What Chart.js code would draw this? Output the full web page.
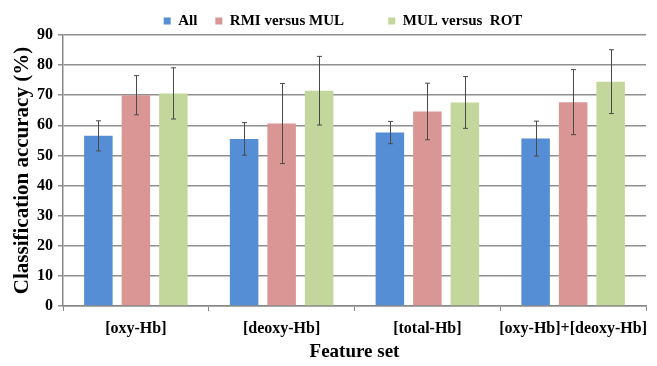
<!DOCTYPE html>
<html><head><meta charset="utf-8">
<script src="https://cdn.jsdelivr.net/npm/chart.js@4.4.0/dist/chart.umd.min.js"></script>
<style>html,body{margin:0;padding:0;background:#fff}#wrap{width:657px;height:366px}</style>
</head><body><div id="wrap"><canvas id="c" width="657" height="366"></canvas></div>
<script>
const categories = ['[oxy-Hb]', '[deoxy-Hb]', '[total-Hb]', '[oxy-Hb]+[deoxy-Hb]'];
const seriesNames = ['All', 'RMI versus MUL       ', 'MUL versus  ROT'];
const allVals = [56.5, 55.5, 57.6, 55.6];
const allErr  = [5.0, 5.4, 3.7, 5.8];
const rmiVals = [70.0, 60.6, 64.6, 67.7];
const rmiErr  = [6.5, 13.3, 9.4, 10.8];
const mulVals = [70.6, 71.5, 67.6, 74.5];
const mulErr  = [8.5, 11.4, 8.6, 10.6];
const yTicks = [0, 10, 20, 30, 40, 50, 60, 70, 80, 90];

const SERIF = '"Liberation Serif", "Times New Roman", serif';

const errorBars = {
  id: 'errorBars',
  afterDatasetsDraw(chart) {
    const ctx = chart.ctx, y = chart.scales.y;
    ctx.save();
    ctx.strokeStyle = '#4a4a4a';
    ctx.lineWidth = 1;
    chart.data.datasets.forEach((ds, di) => {
      const meta = chart.getDatasetMeta(di);
      meta.data.forEach((bar, i) => {
        const v = ds.data[i], e = ds.errors[i];
        const x = Math.round(bar.x) + 0.5;
        const yt = y.getPixelForValue(v + e), yb = y.getPixelForValue(v - e);
        ctx.beginPath();
        ctx.moveTo(x, yt); ctx.lineTo(x, yb);
        ctx.moveTo(x - 2.5, yt); ctx.lineTo(x + 2.5, yt);
        ctx.moveTo(x - 2.5, yb); ctx.lineTo(x + 2.5, yb);
        ctx.stroke();
      });
    });
    ctx.restore();
  }
};

const shiftLegend = {
  id: 'shiftLegend',
  afterLayout(chart) {
    const lg = chart.legend;
    if (lg) { lg.left += 20; lg.right += 20; lg.top += 3.5; lg.bottom += 3.5; }
  }
};

new Chart(document.getElementById('c'), {
  type: 'bar',
  data: {
    labels: categories,
    datasets: [
      { label: seriesNames[0], data: allVals, errors: allErr, backgroundColor: '#558ED5' },
      { label: seriesNames[1], data: rmiVals, errors: rmiErr, backgroundColor: '#D99694' },
      { label: seriesNames[2], data: mulVals, errors: mulErr, backgroundColor: '#C3D69B' }
    ]
  },
  options: {
    responsive: false,
    animation: false,
    devicePixelRatio: 1,
    layout: { padding: { left: 0, right: 11, top: -8, bottom: 0 } },
    datasets: { bar: { categoryPercentage: 0.772, barPercentage: 0.76 } },
    plugins: {
      tooltip: { enabled: false },
      legend: {
        position: 'top',
        labels: {
          boxWidth: 7, boxHeight: 7, padding: 18, color: '#000',
          font: { family: SERIF, size: 15, weight: 'bold' }
        }
      }
    },
    scales: {
      x: {
        afterFit(s) { s.height = 60; },
        grid: { display: true, drawOnChartArea: false, drawTicks: true, tickLength: 5, color: '#888', lineWidth: 1 },
        border: { display: true, color: '#888', width: 1.5 },
        ticks: { color: '#000', padding: 8, maxRotation: 0, autoSkip: false, font: { family: SERIF, size: 16, weight: 'bold' } },
        title: { display: true, text: 'Feature set', color: '#000', padding: { top: 0, bottom: 3 }, font: { family: SERIF, size: 19, weight: 'bold' } }
      },
      y: {
        min: 0, max: 90,
        afterFit(s) { s.width = 63; },
        afterBuildTicks(s) { s.ticks = yTicks.map(v => ({ value: v })); },
        grid: { color: '#8f8f8f', lineWidth: 1.5, tickLength: 5, drawTicks: true },
        border: { display: true, color: '#888', width: 1.5 },
        ticks: { color: '#000', padding: 5, font: { family: SERIF, size: 16, weight: 'bold' } },
        title: { display: true, text: 'Classification accuracy (%)', color: '#000', padding: { top: 9.5, bottom: 0 }, font: { family: SERIF, size: 21, weight: 'bold' } }
      }
    }
  },
  plugins: [errorBars, shiftLegend]
});
</script></body></html>
